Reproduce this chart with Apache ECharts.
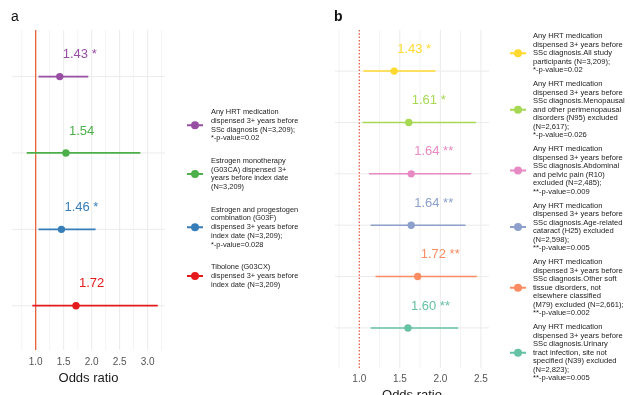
<!DOCTYPE html>
<html>
<head>
<meta charset="utf-8">
<script src="https://cdn.jsdelivr.net/npm/echarts@6/dist/echarts.min.js"></script>
<style>html,body{margin:0;padding:0;background:#fff;}#c{width:630px;height:395px;}</style>
</head>
<body>
<div id="c"></div>
<script>
// ---------- Panel a data ----------
const namesA = [
  "Any HRT medication\ndispensed 3+ years before\nSSc diagnosis (N=3,209);\n*-p-value=0.02",
  "Estrogen monotherapy\n(G03CA) dispensed 3+\nyears before index date\n(N=3,209)",
  "Estrogen and progestogen\ncombination (G03F)\ndispensed 3+ years before\nindex date (N=3,209);\n*-p-value=0.028",
  "Tibolone (G03CX)\ndispensed 3+ years before\nindex date (N=3,209)"
];
const estA = [1.43, 1.54, 1.46, 1.72];
const lowA = [1.05, 0.84, 1.05, 0.94];
const highA = [1.94, 2.87, 2.07, 3.18];
const starsA = ["*", "", "*", ""];
const colorsA = ["#984EA3", "#4DAF4A", "#377EB8", "#E41A1C"];

// ---------- Panel b data ----------
const pre = "Any HRT medication\ndispensed 3+ years before\nSSc diagnosis.";
const namesB = [
  pre + "All study\nparticipants (N=3,209);\n*-p-value=0.02",
  pre + "Menopausal\nand other perimenopausal\ndisorders (N95) excluded\n(N=2,617);\n*-p-value=0.026",
  pre + "Abdominal\nand pelvic pain (R10)\nexcluded (N=2,485);\n**-p-value=0.009",
  pre + "Age-related\ncataract (H25) excluded\n(N=2,598);\n**-p-value=0.005",
  pre + "Other soft\ntissue disorders, not\nelsewhere classified\n(M79) excluded (N=2,661);\n**-p-value=0.002",
  pre + "Urinary\ntract infection, site not\nspecified (N39) excluded\n(N=2,823);\n**-p-value=0.005"
];
const estB = [1.43, 1.61, 1.64, 1.64, 1.72, 1.60];
const lowB = [1.05, 1.04, 1.12, 1.14, 1.20, 1.14];
const highB = [1.94, 2.44, 2.38, 2.31, 2.45, 2.22];
const starsB = ["*", "*", "**", "**", "**", "**"];
const colorsB = ["#FFD92F", "#A6D854", "#E78AC3", "#8DA0CB", "#FC8D62", "#66C2A5"];

// ---------- tick values ----------
const ticksA = [1.0, 1.5, 2.0, 2.5, 3.0];
const minorA = [0.75, 1.25, 1.75, 2.25, 2.75, 3.25];
const ticksB = [1.0, 1.5, 2.0, 2.5];
const minorB = [0.75, 1.25, 1.75, 2.25];
const refValue = 1.0;

const FONT = "Liberation Sans, Arial, Helvetica, sans-serif";
const ICON = "path://M0,3H16V5H0Z M4,4A4,4 0 0,1 12,4A4,4 0 0,1 4,4Z";

const X_EXT = [[0.577, 3.31], [0.7, 2.6]];
const Y_EXT = [[0.39, 4.58], [0.2, 6.78]];

function makeSeries(names, est, low, high, stars, colors, gridIdx, lw, r) {
  return names.map((nm, i) => ({
    type: "custom",
    name: nm,
    xAxisIndex: gridIdx,
    yAxisIndex: gridIdx,
    z: 5,
    itemStyle: { color: colors[i] },
    encode: { x: 0, y: 3 },
    data: [[est[i], low[i], high[i], i + 1]],
    renderItem: function (params, api) {
      const e = api.value(0), lo = api.value(1), hi = api.value(2), row = api.value(3);
      const p = api.coord([e, row]);
      const pl = api.coord([lo, row]);
      const ph = api.coord([hi, row]);
      const txt = est[i].toFixed(2) + (stars[i] ? " " + stars[i] : "");
      return {
        type: "group",
        children: [
          { type: "line", shape: { x1: pl[0], y1: pl[1], x2: ph[0], y2: ph[1] },
            style: { stroke: colors[i], lineWidth: lw } },
          { type: "circle", shape: { cx: p[0], cy: p[1], r: r }, style: { fill: colors[i] } },
          { type: "text", x: p[0] + 3, y: p[1] - 22,
            style: { text: txt, fill: colors[i], font: "13px " + FONT, align: "left", verticalAlign: "middle" } }
        ]
      };
    }
  }));
}

// vertical lines (kind: 0 = minor, 1 = major, 2 = reference) and horizontal row lines (kind 3)
function gridSeries(gridIdx, ticks, minor, nRows, refStyle) {
  const data = [];
  minor.forEach(v => data.push([v, 0]));
  ticks.filter(v => v !== refValue).forEach(v => data.push([v, 1]));
  for (let k = 1; k <= nRows; k++) data.push([k, 3]);
  data.push([refValue, 2]);
  const xe = X_EXT[gridIdx], ye = Y_EXT[gridIdx];
  return {
    type: "custom", xAxisIndex: gridIdx, yAxisIndex: gridIdx, silent: true, z: 1,
    data: data,
    encode: { x: -1, y: -1 },
    renderItem: function (params, api) {
      const v = api.value(0), kind = api.value(1);
      let a, b;
      if (kind === 3) { a = api.coord([xe[0], v]); b = api.coord([xe[1], v]); }
      else { a = api.coord([v, ye[0]]); b = api.coord([v, ye[1]]); }
      let style;
      if (kind === 0) style = { stroke: "#f3f3f3", lineWidth: 1 };
      else if (kind === 1 || kind === 3) style = { stroke: "#ebebeb", lineWidth: 1 };
      else style = refStyle;
      return { type: "line", z2: kind === 2 ? 10 : 0,
        shape: { x1: a[0], y1: a[1], x2: b[0], y2: b[1] }, style: style };
    }
  };
}

function xAx(gridIdx, ticks, margin, nameGap) {
  return {
    type: "value", gridIndex: gridIdx, min: X_EXT[gridIdx][0], max: X_EXT[gridIdx][1],
    axisLine: { show: false }, axisTick: { show: false }, splitLine: { show: false },
    axisLabel: { customValues: ticks, color: "#555", fontSize: 10, fontFamily: FONT, margin: margin,
      formatter: v => v.toFixed(1) },
    name: "Odds ratio", nameLocation: "middle", nameGap: nameGap,
    nameTextStyle: { color: "#1a1a1a", fontSize: 13, fontFamily: FONT }
  };
}
function yAx(gridIdx) {
  return { type: "value", gridIndex: gridIdx, min: Y_EXT[gridIdx][0], max: Y_EXT[gridIdx][1],
    inverse: true, show: false, splitLine: { show: false } };
}

const chart = echarts.init(document.getElementById("c"), null, { renderer: "canvas" });
chart.setOption({
  animation: false,
  backgroundColor: "#fff",
  graphic: [
    { type: "text", x: 11, y: 17.5, style: { text: "a", font: "14px " + FONT, fill: "#111", verticalAlign: "middle" } },
    { type: "text", x: 334, y: 17.5, style: { text: "b", font: "bold 14px " + FONT, fill: "#111", verticalAlign: "middle" } }
  ],
  grid: [
    { left: 12, top: 30, width: 153, height: 320, outerBoundsMode: "none", containLabel: false },
    { left: 335, top: 30, width: 154, height: 338, outerBoundsMode: "none", containLabel: false }
  ],
  xAxis: [xAx(0, ticksA, 7, 20), xAx(1, ticksB, 6, 19)],
  yAxis: [yAx(0), yAx(1)],
  legend: [
    { orient: "vertical", left: 187, top: 107.8, padding: 0, itemGap: 14, itemWidth: 16, itemHeight: 8,
      selectedMode: false,
      data: namesA.map(n => ({ name: n, icon: ICON })),
      textStyle: { fontSize: 7.4, lineHeight: 8.7, color: "#222", fontFamily: FONT, padding: [0, 0, 0, 3] } },
    { orient: "vertical", left: 510, top: 32, padding: 0, itemGap: 5.5, itemWidth: 16, itemHeight: 8,
      selectedMode: false,
      data: namesB.map(n => ({ name: n, icon: ICON })),
      textStyle: { fontSize: 7.6, lineHeight: 8.5, color: "#222", fontFamily: FONT, padding: [0, 0, 0, 2] } }
  ],
  series: [
    gridSeries(0, ticksA, minorA, 4, { stroke: "#e8613c", lineWidth: 1.3 }),
    gridSeries(1, ticksB, minorB, 6, { stroke: "#e5624a", lineWidth: 1.3, lineDash: [1.5, 1.8] })
  ]
    .concat(makeSeries(namesA, estA, lowA, highA, starsA, colorsA, 0, 1.8, 3.7))
    .concat(makeSeries(namesB, estB, lowB, highB, starsB, colorsB, 1, 1.5, 3.7))
});
</script>
</body>
</html>
